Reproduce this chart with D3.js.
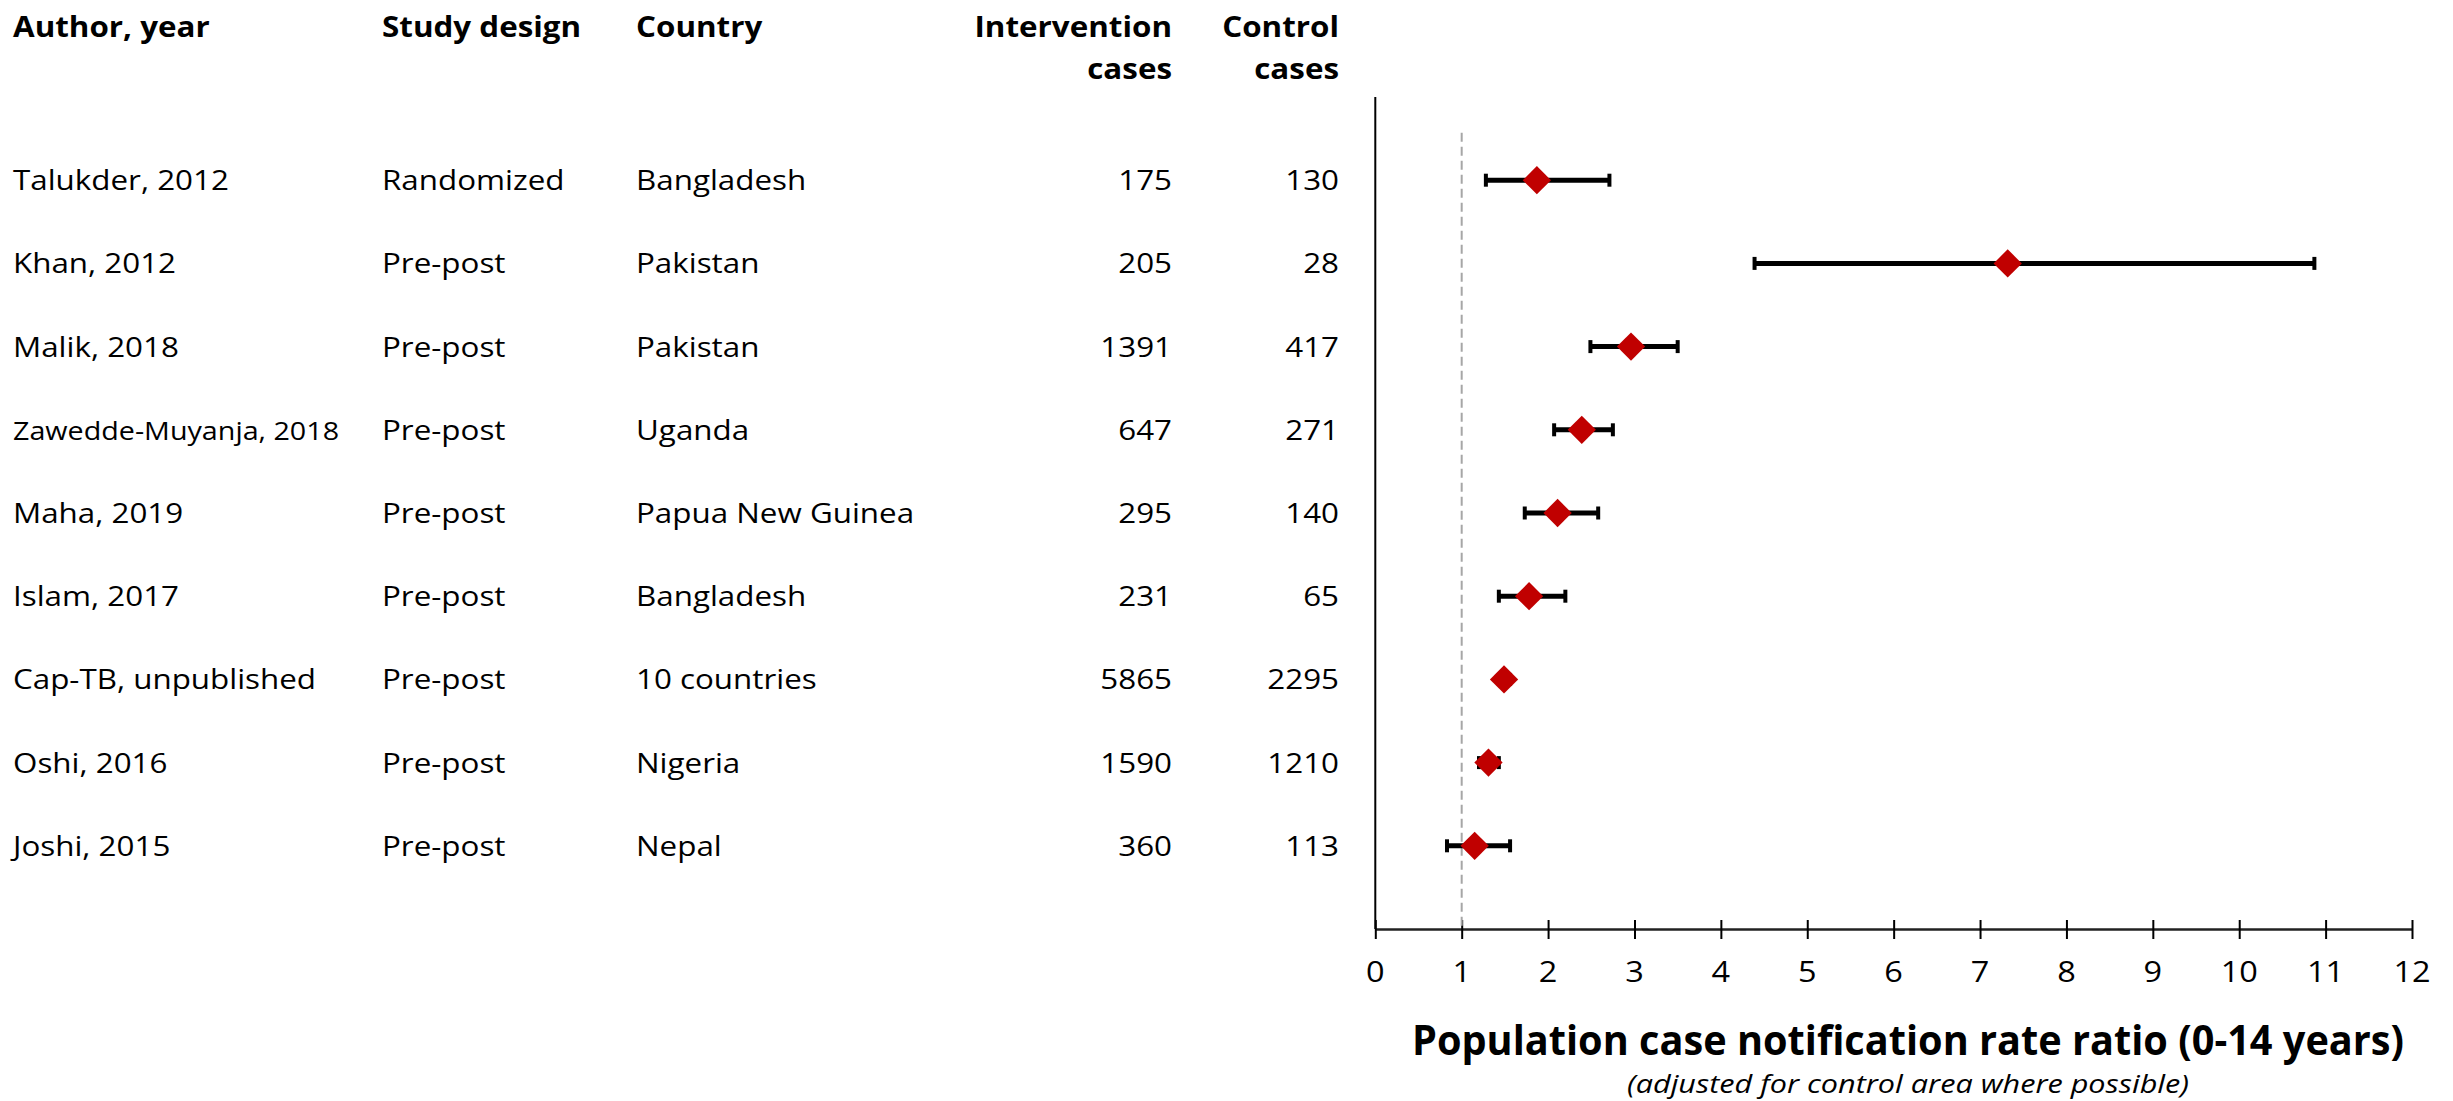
<!DOCTYPE html>
<html>
<head>
<meta charset="utf-8">
<script src="https://cdn.jsdelivr.net/npm/d3@7"></script>
<style>
  html, body { margin: 0; padding: 0; background: #fff; }
  svg { display: block; font-family: "Open Sans", "Noto Sans", sans-serif; }
</style>
</head>
<body>
<svg id="chart"></svg>
<script>
// study rows, top to bottom
const authors = ["Talukder, 2012", "Khan, 2012", "Malik, 2018", "Zawedde-Muyanja, 2018", "Maha, 2019",
  "Islam, 2017", "Cap-TB, unpublished", "Oshi, 2016", "Joshi, 2015"];
const designs = ["Randomized", "Pre-post", "Pre-post", "Pre-post", "Pre-post", "Pre-post", "Pre-post", "Pre-post", "Pre-post"];
const countries = ["Bangladesh", "Pakistan", "Pakistan", "Uganda", "Papua New Guinea", "Bangladesh",
  "10 countries", "Nigeria", "Nepal"];
const interventionCases = [175, 205, 1391, 647, 295, 231, 5865, 1590, 360];
const controlCases = [130, 28, 417, 271, 140, 65, 2295, 1210, 113];

// rate ratio with 95% CI
const rateRatio = [1.87, 7.32, 2.96, 2.39, 2.11, 1.78, 1.49, 1.31, 1.15];
const ciLower = [1.28, 4.39, 2.49, 2.07, 1.73, 1.43, 1.43, 1.20, 0.83];
const ciUpper = [2.71, 10.87, 3.50, 2.75, 2.58, 2.20, 1.56, 1.43, 1.56];

const xTicks = [0, 1, 2, 3, 4, 5, 6, 7, 8, 9, 10, 11, 12];
const headers = [["Author, year"], ["Study design"], ["Country"], ["Intervention", "cases"], ["Control", "cases"]];
const xTitle = "Population case notification rate ratio (0-14 years)";
const xSubtitle = "(adjusted for control area where possible)";

const width = 2453, height = 1101;
const SX = 1.12;      // horizontal stretch of the original glyphs
const fs = 28;        // body font size
const cap = fs * 0.714;

const svg = d3.select("#chart").attr("width", width).attr("height", height);

const x = d3.scaleLinear().domain([0, 12]).range([1375.3, 2412]);
const y = d3.scaleLinear().domain([0, 10]).range([97, 929]);

function label(g, px, py, txt, anchor, size, weight, style, sx) {
  return g.append("text")
    .attr("transform", `translate(${px},${py}) scale(${sx || SX},1)`)
    .attr("text-anchor", anchor || "start")
    .style("font-size", (size || fs) + "px")
    .style("font-weight", weight || "normal")
    .style("font-style", style || "normal")
    .attr("fill", "#000")
    .text(txt);
}

// squeeze a label horizontally so it spans the given width
function fitWidth(t, px, py, target) {
  const w = t.node().getComputedTextLength();
  t.attr("transform", `translate(${px},${py}) scale(${target / w},1)`);
}

// table columns: [x, anchor]
const cols = [[13, "start"], [382, "start"], [636, "start"], [1172, "end"], [1339, "end"]];

// headers
const head = svg.append("g");
headers.forEach((lines, c) => {
  lines.forEach((t, k) => {
    label(head, cols[c][0], 27 + k * 42 + cap / 2, t, cols[c][1], fs, "bold");
  });
});

// table body
const table = svg.append("g");
authors.forEach((a, i) => {
  const yc = y(i + 1) + cap / 2;
  const t = label(table, cols[0][0], yc, a, "start");
  // shrink to fit like the spreadsheet cell
  const w = t.node().getComputedTextLength() * SX;
  if (w > 326) t.style("font-size", (fs * 326 / w) + "px");
  label(table, cols[1][0], yc, designs[i], "start");
  label(table, cols[2][0], yc, countries[i], "start");
  label(table, cols[3][0], yc, interventionCases[i], "end");
  label(table, cols[4][0], yc, controlCases[i], "end");
});

// axes
const plot = svg.append("g");
plot.append("line")
  .attr("x1", x(0)).attr("x2", x(0))
  .attr("y1", y(0)).attr("y2", y(10))
  .attr("stroke", "#000").attr("stroke-width", 2);

const xAxis = plot.append("g")
  .attr("transform", `translate(0,${y(10)})`)
  .call(d3.axisBottom(x).tickValues(xTicks).tickSize(10).tickSizeOuter(0).tickFormat(d => d));
xAxis.select(".domain").attr("stroke", "#222").attr("stroke-width", 2.5);
xAxis.selectAll(".tick line").attr("y1", -9).attr("y2", 10).attr("stroke", "#000").attr("stroke-width", 2);
xAxis.selectAll(".tick text").remove();
xTicks.forEach(v => label(plot, x(v), 972 + cap / 2, v, "middle", 29));

// reference line at 1
plot.append("line")
  .attr("x1", x(1)).attr("x2", x(1))
  .attr("y1", y(0.43)).attr("y2", y(10))
  .attr("stroke", "#a6a6a6").attr("stroke-width", 2)
  .attr("stroke-dasharray", "9,5");

// error bars
const rows = rateRatio.map((r, i) => ({ r, lo: ciLower[i], hi: ciUpper[i], k: i + 1 }));
const bars = plot.selectAll(".ci").data(rows).enter().append("g").attr("class", "ci");
bars.append("line")
  .attr("x1", d => x(d.lo)).attr("x2", d => x(d.hi))
  .attr("y1", d => y(d.k)).attr("y2", d => y(d.k))
  .attr("stroke", "#000").attr("stroke-width", 5);
["lo", "hi"].forEach(key => {
  bars.append("line")
    .attr("x1", d => x(d[key])).attr("x2", d => x(d[key]))
    .attr("y1", d => y(d.k) - 6.5).attr("y2", d => y(d.k) + 6.5)
    .attr("stroke", "#000").attr("stroke-width", 4);
});

// point estimates (diamonds)
plot.selectAll(".pt").data(rows).enter().append("path")
  .attr("class", "pt")
  .attr("d", d3.symbol().type(d3.symbolSquare).size(400))
  .attr("transform", d => `translate(${x(d.r)},${y(d.k)}) rotate(45)`)
  .attr("fill", "#c00000");

// axis title
const t1 = label(svg, 1908, 1055, xTitle, "middle", 41, "bold");
fitWidth(t1, 1908, 1055, 992);
const t2 = label(svg, 1908, 1093, xSubtitle, "middle", 25, "normal", "italic");
fitWidth(t2, 1908, 1093, 562);
</script>
</body>
</html>
